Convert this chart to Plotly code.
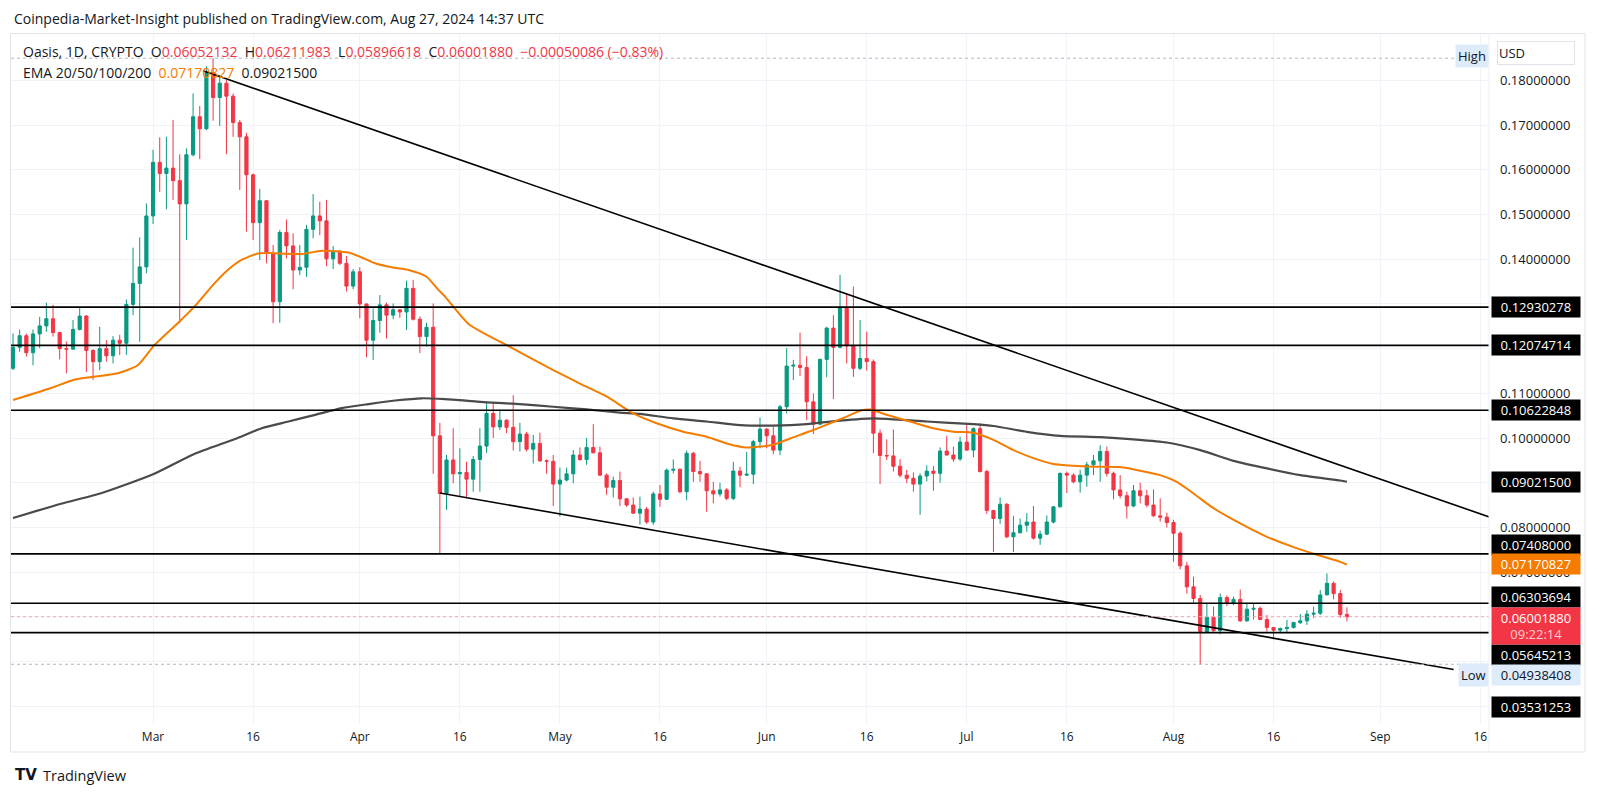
import plotly.graph_objects as go
import pandas as pd

# ---------------- data ----------------
START_DATE = "2024-02-09"   # first daily candle

OPEN = [0.1156, 0.1203, 0.1229, 0.1191, 0.1233, 0.1251, 0.1267, 0.1236, 0.1200, 0.1199,
        0.1243, 0.1273, 0.1196, 0.1171, 0.1200, 0.1184, 0.1219, 0.1212, 0.1299, 0.1346,
        0.1383, 0.1497, 0.1617, 0.1592, 0.1604, 0.1576, 0.1524, 0.1634, 0.1719, 0.1692,
        0.1818, 0.1762, 0.1794, 0.1765, 0.1706, 0.1674, 0.1589, 0.1482, 0.1531, 0.1413,
        0.1305, 0.1460, 0.1430, 0.1376, 0.1382, 0.1467, 0.1497, 0.1486, 0.1401, 0.1416,
        0.1391, 0.1340, 0.1372, 0.1300, 0.1219, 0.1263, 0.1298, 0.1275, 0.1287, 0.1282,
        0.1335, 0.1266, 0.1227, 0.1248, 0.1005, 0.0876, 0.0951, 0.0920, 0.0923, 0.0908,
        0.0952, 0.0982, 0.1055, 0.1025, 0.1040, 0.1024, 0.0992, 0.1009, 0.0975, 0.0988,
        0.0949, 0.0948, 0.0897, 0.0906, 0.0920, 0.0962, 0.0952, 0.0979, 0.0967, 0.0917,
        0.0890, 0.0905, 0.0864, 0.0850, 0.0832, 0.0841, 0.0812, 0.0875, 0.0863, 0.0928,
        0.0930, 0.0880, 0.0966, 0.0925, 0.0920, 0.0882, 0.0875, 0.0884, 0.0865, 0.0926,
        0.0917, 0.0919, 0.0992, 0.1020, 0.1005, 0.0973, 0.1070, 0.1161, 0.1163, 0.1158,
        0.1081, 0.1031, 0.1176, 0.1246, 0.1203, 0.1292, 0.1206, 0.1156, 0.1178, 0.1171,
        0.1011, 0.0961, 0.0960, 0.0937, 0.0917, 0.0910, 0.0897, 0.0915, 0.0926, 0.0921,
        0.0971, 0.0962, 0.0953, 0.0991, 0.0973, 0.1021, 0.0925, 0.0838, 0.0820, 0.0852,
        0.0779, 0.0788, 0.0805, 0.0812, 0.0776, 0.0785, 0.0812, 0.0846, 0.0921, 0.0917,
        0.0902, 0.0917, 0.0940, 0.0949, 0.0970, 0.0921, 0.0884, 0.0871, 0.0848, 0.0882,
        0.0871, 0.0850, 0.0826, 0.0823, 0.0811, 0.0787, 0.0714, 0.0667, 0.0641, 0.0567,
        0.0599, 0.0569, 0.0643, 0.0630, 0.0639, 0.0591, 0.0617, 0.0619, 0.0594, 0.0576,
        0.0570, 0.0574, 0.0576, 0.0587, 0.0591, 0.0606, 0.0608, 0.0649, 0.0675, 0.0652,
        0.06052132]

HIGH = [0.1234, 0.1243, 0.1234, 0.1243, 0.1271, 0.1303, 0.1298, 0.1238, 0.1216, 0.1264,
        0.1294, 0.1275, 0.1199, 0.1249, 0.1219, 0.1228, 0.1231, 0.1310, 0.1426, 0.1449,
        0.1525, 0.1645, 0.1673, 0.1674, 0.1712, 0.1635, 0.1648, 0.1771, 0.1743, 0.1832,
        0.1850, 0.1812, 0.1801, 0.1771, 0.1712, 0.1683, 0.1592, 0.1557, 0.1533, 0.1432,
        0.1466, 0.1489, 0.1458, 0.1432, 0.1477, 0.1546, 0.1529, 0.1533, 0.1430, 0.1421,
        0.1407, 0.1378, 0.1382, 0.1301, 0.1290, 0.1320, 0.1303, 0.1301, 0.1288, 0.1352,
        0.1354, 0.1272, 0.1258, 0.1301, 0.1034, 0.0962, 0.1022, 0.0977, 0.0947, 0.0960,
        0.1022, 0.1078, 0.1078, 0.1064, 0.1042, 0.1096, 0.1034, 0.1014, 0.1007, 0.1012,
        0.0952, 0.0962, 0.0934, 0.0934, 0.0973, 0.0979, 0.1000, 0.1031, 0.0981, 0.0921,
        0.0914, 0.0925, 0.0865, 0.0867, 0.0869, 0.0846, 0.0880, 0.0895, 0.0932, 0.0952,
        0.0932, 0.0972, 0.0969, 0.0949, 0.0921, 0.0902, 0.0900, 0.0888, 0.0947, 0.0936,
        0.0969, 0.0996, 0.1046, 0.1022, 0.1025, 0.1074, 0.1201, 0.1175, 0.1236, 0.1183,
        0.1100, 0.1178, 0.1249, 0.1275, 0.1365, 0.1320, 0.1339, 0.1264, 0.1238, 0.1176,
        0.1019, 0.0997, 0.1019, 0.0953, 0.0929, 0.0923, 0.0921, 0.0939, 0.0937, 0.0979,
        0.1005, 0.0981, 0.1003, 0.1033, 0.1024, 0.1033, 0.0929, 0.0839, 0.0867, 0.0854,
        0.0826, 0.0820, 0.0832, 0.0848, 0.0793, 0.0827, 0.0848, 0.0923, 0.0925, 0.0921,
        0.0929, 0.0947, 0.0962, 0.0984, 0.0981, 0.0925, 0.0917, 0.0880, 0.0895, 0.0900,
        0.0884, 0.0885, 0.0865, 0.0833, 0.0817, 0.0791, 0.0723, 0.0690, 0.0649, 0.0630,
        0.0623, 0.0652, 0.0648, 0.0645, 0.0661, 0.0630, 0.0630, 0.0623, 0.0604, 0.0577,
        0.0576, 0.0593, 0.0589, 0.0606, 0.0615, 0.0623, 0.0660, 0.0697, 0.0679, 0.0660,
        0.06211983]

LOW = [0.1152, 0.1193, 0.1182, 0.1163, 0.1201, 0.1238, 0.1227, 0.1176, 0.1145, 0.1197,
       0.1241, 0.1148, 0.1130, 0.1152, 0.1171, 0.1167, 0.1186, 0.1186, 0.1275, 0.1215,
       0.1369, 0.1479, 0.1551, 0.1512, 0.1533, 0.1257, 0.1443, 0.1630, 0.1624, 0.1689,
       0.1710, 0.1698, 0.1635, 0.1674, 0.1555, 0.1462, 0.1443, 0.1398, 0.1391, 0.1257,
       0.1258, 0.1402, 0.1333, 0.1365, 0.1361, 0.1447, 0.1454, 0.1385, 0.1378, 0.1387,
       0.1328, 0.1333, 0.1268, 0.1181, 0.1175, 0.1236, 0.1223, 0.1266, 0.1269, 0.1242,
       0.1263, 0.1190, 0.1205, 0.0920, 0.0741, 0.0839, 0.0899, 0.0869, 0.0865, 0.0880,
       0.0880, 0.0967, 0.1000, 0.1018, 0.1011, 0.0972, 0.0970, 0.0970, 0.0943, 0.0947,
       0.0920, 0.0848, 0.0824, 0.0903, 0.0899, 0.0949, 0.0940, 0.0966, 0.0915, 0.0873,
       0.0867, 0.0848, 0.0846, 0.0830, 0.0806, 0.0808, 0.0806, 0.0846, 0.0861, 0.0921,
       0.0876, 0.0861, 0.0902, 0.0902, 0.0835, 0.0854, 0.0869, 0.0861, 0.0861, 0.0890,
       0.0915, 0.0897, 0.0977, 0.0977, 0.0964, 0.0962, 0.1055, 0.1130, 0.1139, 0.1040,
       0.1009, 0.1029, 0.1136, 0.1087, 0.1201, 0.1167, 0.1137, 0.1152, 0.1151, 0.0966,
       0.0897, 0.0951, 0.0925, 0.0912, 0.0899, 0.0880, 0.0828, 0.0903, 0.0882, 0.0900,
       0.0961, 0.0947, 0.0949, 0.0972, 0.0957, 0.0923, 0.0830, 0.0745, 0.0808, 0.0776,
       0.0745, 0.0787, 0.0790, 0.0773, 0.0761, 0.0783, 0.0809, 0.0845, 0.0877, 0.0899,
       0.0878, 0.0891, 0.0917, 0.0902, 0.0914, 0.0863, 0.0865, 0.0820, 0.0845, 0.0854,
       0.0845, 0.0824, 0.0813, 0.0800, 0.0723, 0.0706, 0.0652, 0.0630, 0.04938408, 0.0564,
       0.0567, 0.0561, 0.0624, 0.0626, 0.0589, 0.0589, 0.0594, 0.0593, 0.0567, 0.0550,
       0.0564, 0.0564, 0.0574, 0.0584, 0.0582, 0.0597, 0.0604, 0.0649, 0.0639, 0.0598,
       0.05896618]

CLOSE = [0.1203, 0.1229, 0.1191, 0.1233, 0.1251, 0.1267, 0.1236, 0.1200, 0.1199, 0.1243,
         0.1273, 0.1196, 0.1171, 0.1200, 0.1184, 0.1219, 0.1212, 0.1299, 0.1346, 0.1383,
         0.1497, 0.1617, 0.1592, 0.1604, 0.1576, 0.1524, 0.1634, 0.1719, 0.1692, 0.1818,
         0.1762, 0.1794, 0.1765, 0.1706, 0.1674, 0.1589, 0.1482, 0.1531, 0.1413, 0.1305,
         0.1460, 0.1430, 0.1376, 0.1382, 0.1467, 0.1497, 0.1486, 0.1401, 0.1416, 0.1391,
         0.1340, 0.1372, 0.1300, 0.1219, 0.1263, 0.1298, 0.1275, 0.1287, 0.1282, 0.1335,
         0.1266, 0.1227, 0.1248, 0.1005, 0.0876, 0.0951, 0.0920, 0.0923, 0.0908, 0.0952,
         0.0982, 0.1055, 0.1025, 0.1040, 0.1024, 0.0992, 0.1009, 0.0975, 0.0988, 0.0949,
         0.0948, 0.0897, 0.0906, 0.0920, 0.0962, 0.0952, 0.0979, 0.0967, 0.0917, 0.0890,
         0.0905, 0.0864, 0.0850, 0.0832, 0.0841, 0.0812, 0.0875, 0.0863, 0.0928, 0.0930,
         0.0880, 0.0966, 0.0925, 0.0920, 0.0882, 0.0875, 0.0884, 0.0865, 0.0926, 0.0917,
         0.0919, 0.0992, 0.1020, 0.1005, 0.0973, 0.1070, 0.1161, 0.1163, 0.1158, 0.1081,
         0.1031, 0.1176, 0.1246, 0.1203, 0.1292, 0.1206, 0.1156, 0.1178, 0.1171, 0.1011,
         0.0961, 0.0960, 0.0937, 0.0917, 0.0910, 0.0897, 0.0915, 0.0926, 0.0921, 0.0971,
         0.0962, 0.0953, 0.0991, 0.0973, 0.1021, 0.0925, 0.0838, 0.0820, 0.0852, 0.0779,
         0.0788, 0.0805, 0.0812, 0.0776, 0.0785, 0.0812, 0.0846, 0.0921, 0.0917, 0.0902,
         0.0917, 0.0940, 0.0949, 0.0970, 0.0921, 0.0884, 0.0871, 0.0848, 0.0882, 0.0871,
         0.0850, 0.0826, 0.0823, 0.0811, 0.0787, 0.0714, 0.0667, 0.0641, 0.0567, 0.0599,
         0.0569, 0.0643, 0.0630, 0.0639, 0.0591, 0.0617, 0.0619, 0.0594, 0.0576, 0.0570,
         0.0574, 0.0576, 0.0587, 0.0591, 0.0606, 0.0608, 0.0649, 0.0675, 0.0652, 0.06052132,
         0.06001880]

# EMA lines (day offset from START_DATE, value)
EMA_ORANGE_DAY = [0, 5.7, 9.3, 15.7, 18.7, 21.2, 24.7, 27.2, 30.2, 32.2, 34.2, 36.7, 38.2,
                  43.3, 46.3, 50.3, 52.3, 54.3, 56.8, 59.3, 62.0, 63.8, 64.8, 68.4, 74.5,
                  81.0, 85.0, 89.0, 93.0, 96.5, 100.5, 104, 107, 110, 114, 116.5, 120,
                  122.5, 125, 127, 128.5, 131, 134.5, 138, 141, 144, 147, 150, 153, 156,
                  159, 162, 166, 169, 172, 174.5, 177, 180, 184, 188, 192, 195, 199, 200]
EMA_ORANGE_VAL = [0.1085, 0.1112, 0.1131, 0.1145, 0.1163, 0.1208, 0.1257, 0.1294, 0.1346,
                  0.1376, 0.1398, 0.1413, 0.1414, 0.1412, 0.1419, 0.1415, 0.1404, 0.1391,
                  0.1382, 0.1376, 0.1361, 0.1331, 0.1316, 0.1254, 0.1204, 0.1152, 0.1122,
                  0.1093, 0.1055, 0.1033, 0.1014, 0.1003, 0.0988, 0.0979, 0.0985, 0.0999,
                  0.1018, 0.1033, 0.1048, 0.1061, 0.1064, 0.1052, 0.1037, 0.1022, 0.1014,
                  0.1012, 0.0996, 0.0973, 0.0955, 0.0942, 0.0938, 0.0936, 0.0935, 0.0927,
                  0.0917, 0.0902, 0.0876, 0.0843, 0.0809, 0.0779, 0.0756, 0.0741, 0.0723,
                  0.07170827]
EMA_GRAY_DAY = [0, 7.2, 13.3, 21, 27.1, 33.3, 37.3, 41.3, 45.3, 49.3, 53.3, 57.3, 61.3, 64.8,
                71, 76, 81, 86, 91, 94, 99, 104, 109, 114, 119, 124, 129, 137, 144, 147,
                152, 157, 163, 168, 173, 178, 183, 188, 193, 199, 200]
EMA_GRAY_VAL = [0.0821, 0.0853, 0.0877, 0.0919, 0.0964, 0.0998, 0.1022, 0.1037, 0.1052,
                0.1067, 0.1076, 0.1084, 0.1089, 0.1087, 0.1080, 0.1076, 0.1070, 0.1064,
                0.1057, 0.1054, 0.1044, 0.1037, 0.1029, 0.1028, 0.1031, 0.1039, 0.1044,
                0.1037, 0.1031, 0.1027, 0.1014, 0.1005, 0.1002, 0.0997, 0.0990, 0.0973,
                0.0949, 0.0932, 0.0917, 0.0905, 0.09021500]

LEVELS = [0.12930278, 0.12074714, 0.10622848, 0.07408000, 0.06303694, 0.05645213]
UPPER_TREND_DAY = [28.5, 222.0]
UPPER_TREND_VAL = [0.1822, 0.0820]
LOWER_TREND_DAY = [64.0, 216.0]
LOWER_TREND_VAL = [0.0877, 0.0482]
HIGH_PRICE = 0.1850
LOW_PRICE = 0.04938408
LAST_PRICE = 0.06001880
EMA_ORANGE_LAST = 0.07170827
EMA_GRAY_LAST = 0.09021500
BOTTOM_LEVEL = 0.03531253

X_TICK_DATES = ["2024-03-01", "2024-03-16", "2024-04-01", "2024-04-16", "2024-05-01",
                "2024-05-16", "2024-06-01", "2024-06-16", "2024-07-01", "2024-07-16",
                "2024-08-01", "2024-08-16", "2024-09-01", "2024-09-16"]
X_TICK_TEXT = ["Mar", "16", "Apr", "16", "May", "16", "Jun", "16", "Jul", "16",
               "Aug", "16", "Sep", "16"]
Y_TICKS = [0.04, 0.05, 0.06, 0.07, 0.08, 0.09, 0.10, 0.11, 0.12, 0.13, 0.14, 0.15,
           0.16, 0.17, 0.18]
Y_TICK_TEXT = ["", "", "", "0.07000000", "0.08000000", "", "0.10000000", "0.11000000",
               "", "", "0.14000000", "0.15000000", "0.16000000", "0.17000000", "0.18000000"]

# ---------------- styling / geometry ----------------
W, H = 1600, 795
PL, PR, PT, PB = 11, 1489, 34, 724        # plot area in pixels
FONT = "'Open Sans', Roboto, sans-serif"
TXT = "#131722"
UP, DOWN = "#089981", "#F23645"
ORANGE = "#F57C00"
GRAY_LINE = "#4a4a4a"
AX_FONT = 13

base = pd.Timestamp(START_DATE)
dates = pd.date_range(START_DATE, periods=len(CLOSE), freq="D")
def day(d):
    return base + pd.Timedelta(days=d)

x_range = [day(-0.30), day(221.3)]
y_range = [0.036015, 0.190412]

def px2x(px):
    return (px - PL) / (PR - PL)

def py2y(py):
    return (PB - py) / (PB - PT)

fig = go.Figure()

fig.add_trace(go.Scatter(x=[day(d) for d in EMA_GRAY_DAY], y=EMA_GRAY_VAL, mode="lines",
                         line=dict(color=GRAY_LINE, width=2.2, shape="spline", smoothing=0.6),
                         hoverinfo="skip", showlegend=False))
fig.add_trace(go.Scatter(x=[day(d) for d in EMA_ORANGE_DAY], y=EMA_ORANGE_VAL, mode="lines",
                         line=dict(color=ORANGE, width=2, shape="spline", smoothing=0.6),
                         hoverinfo="skip", showlegend=False))

fig.add_trace(go.Candlestick(
    x=dates, open=OPEN, high=HIGH, low=LOW, close=CLOSE,
    increasing=dict(line=dict(color=UP, width=1), fillcolor=UP),
    decreasing=dict(line=dict(color=DOWN, width=1), fillcolor=DOWN),
    whiskerwidth=0, hoverinfo="skip", showlegend=False))

for dlist, vlist in [(UPPER_TREND_DAY, UPPER_TREND_VAL), (LOWER_TREND_DAY, LOWER_TREND_VAL)]:
    fig.add_trace(go.Scatter(x=[day(d) for d in dlist], y=vlist, mode="lines",
                             line=dict(color="#000000", width=1.6),
                             hoverinfo="skip", showlegend=False))

shapes = []
for lv in LEVELS:
    shapes.append(dict(type="line", xref="paper", yref="y", x0=0, x1=1, y0=lv, y1=lv,
                       line=dict(color="#000000", width=1.6)))
# high / low / last price dotted lines
shapes.append(dict(type="line", xref="paper", yref="y", x0=0, x1=1, y0=HIGH_PRICE, y1=HIGH_PRICE,
                   line=dict(color="#B2B5BE", width=1, dash="dot")))
shapes.append(dict(type="line", xref="paper", yref="y", x0=0, x1=1, y0=LOW_PRICE, y1=LOW_PRICE,
                   line=dict(color="#B2B5BE", width=1, dash="dot")))
shapes.append(dict(type="line", xref="paper", yref="y", x0=0, x1=1, y0=LAST_PRICE, y1=LAST_PRICE,
                   line=dict(color="#F7A1A8", width=1, dash="dot")))
# frame
shapes.append(dict(type="rect", xref="paper", yref="paper", x0=px2x(10.5), x1=px2x(1585),
                   y0=py2y(752), y1=py2y(33.5), line=dict(color="#E0E3EB", width=1),
                   layer="below"))
shapes.append(dict(type="line", xref="paper", yref="paper", x0=px2x(1489), x1=px2x(1489),
                   y0=py2y(752), y1=py2y(33.5), line=dict(color="#EEF0F4", width=1)))

ann = []
def axis_box(val, text, bg, fg, yshift=0, h=18, yref="y"):
    ann.append(dict(xref="paper", x=px2x(1491), xanchor="left", yref=yref, y=val,
                    yanchor="middle", yshift=yshift, text=text, showarrow=False,
                    bgcolor=bg, font=dict(color=fg, size=AX_FONT, family=FONT),
                    width=86, height=h, borderpad=1, align="center"))

axis_box(LEVELS[0], "0.12930278", "#000000", "#FFFFFF")
axis_box(LEVELS[1], "0.12074714", "#000000", "#FFFFFF")
axis_box(LEVELS[2], "0.10622848", "#000000", "#FFFFFF")
axis_box(EMA_GRAY_LAST, "0.09021500", "#000000", "#FFFFFF")
axis_box(LEVELS[3], "0.07408000", "#000000", "#FFFFFF", yshift=9)
axis_box(EMA_ORANGE_LAST, "0.07170827", ORANGE, "#FFFFFF")
axis_box(LEVELS[4], "0.06303694", "#000000", "#FFFFFF", yshift=6)
axis_box(LEVELS[5], "0.05645213", "#000000", "#FFFFFF", yshift=-22.6)
axis_box(LOW_PRICE, "0.04938408", "#DDEBFB", TXT, yshift=-11)
axis_box(py2y(707), "0.03531253", "#000000", "#FFFFFF", yref="paper")
# last price (two lines)
ann.append(dict(xref="paper", x=px2x(1491), xanchor="left", yref="y", y=LAST_PRICE,
                yanchor="top", yshift=10, showarrow=False,
                text="0.06001880<br><span style='color:#FFD0D5'>09:22:14</span>",
                bgcolor=DOWN, font=dict(color="#FFFFFF", size=AX_FONT, family=FONT),
                width=86, height=34, borderpad=1, align="center"))
# High / Low tags left of the axis
ann.append(dict(xref="paper", x=px2x(1489), xanchor="right", yref="y", y=HIGH_PRICE,
                yanchor="middle", yshift=2, text="High", showarrow=False, bgcolor="#DDEBFB",
                font=dict(color=TXT, size=AX_FONT, family=FONT), borderpad=2))
ann.append(dict(xref="paper", x=px2x(1489), xanchor="right", yref="y", y=LOW_PRICE,
                yanchor="middle", yshift=-11, text="Low", showarrow=False, bgcolor="#DDEBFB",
                font=dict(color=TXT, size=AX_FONT, family=FONT), borderpad=2))
# USD box
ann.append(dict(xref="paper", x=px2x(1497), xanchor="left", yref="paper", y=py2y(53),
                yanchor="middle", text="USD", showarrow=False, bgcolor="#FFFFFF",
                bordercolor="#E0E3EB", borderwidth=1, width=74, height=20, borderpad=1,
                align="left", font=dict(color=TXT, size=13, family=FONT)))
# header & legend
ann.append(dict(xref="paper", x=px2x(12), xanchor="left", yref="paper", y=py2y(18.5),
                yanchor="middle", showarrow=False,
                text="Coinpedia-Market-Insight published on TradingView.com, Aug 27, 2024 14:37 UTC",
                font=dict(color=TXT, size=14, family=FONT)))
red = lambda s: f"<span style='color:{DOWN}'>{s}</span>"
sp = "\u00a0\u00a0"
legend1 = ("Oasis, 1D, CRYPTO" + sp + "O" + red("0.06052132") + sp + "H" + red("0.06211983")
           + sp + "L" + red("0.05896618") + sp + "C" + red("0.06001880") + sp
           + red("\u22120.00050086 (\u22120.83%)"))
ann.append(dict(xref="paper", x=px2x(21), xanchor="left", yref="paper", y=py2y(51.5),
                yanchor="middle", showarrow=False, text=legend1,
                font=dict(color=TXT, size=14, family=FONT)))
legend2 = ("EMA 20/50/100/200" + sp + f"<span style='color:{ORANGE}'>0.07170827</span>" + sp
           + "0.09021500")
ann.append(dict(xref="paper", x=px2x(21), xanchor="left", yref="paper", y=py2y(72.5),
                yanchor="middle", showarrow=False, text=legend2,
                font=dict(color=TXT, size=14, family=FONT)))
# footer
ann.append(dict(xref="paper", x=px2x(13), xanchor="left", yref="paper", y=py2y(775),
                yanchor="middle", showarrow=False, text="<b>TV</b>",
                font=dict(color=TXT, size=15, family="'DejaVu Sans', sans-serif")))
ann.append(dict(xref="paper", x=px2x(41), xanchor="left", yref="paper", y=py2y(775),
                yanchor="middle", showarrow=False, text="TradingView",
                font=dict(color=TXT, size=14.5, family=FONT)))

fig.update_layout(
    width=W, height=H,
    margin=dict(l=PL, r=W - PR, t=PT, b=H - PB, pad=0),
    paper_bgcolor="#FFFFFF", plot_bgcolor="#FFFFFF",
    showlegend=False, hovermode=False,
    shapes=shapes, annotations=ann,
    boxgap=0.32,
    xaxis=dict(type="date", range=x_range, rangeslider=dict(visible=False),
               tickmode="array", tickvals=X_TICK_DATES, ticktext=X_TICK_TEXT,
               showgrid=True, gridcolor="#F0F3FA", gridwidth=1, zeroline=False,
               showline=False, ticks="", ticklabelstandoff=4,
               tickfont=dict(color=TXT, size=12, family=FONT)),
    yaxis=dict(range=y_range, side="right", tickmode="array", tickvals=Y_TICKS,
               ticktext=Y_TICK_TEXT, showgrid=True, gridcolor="#F0F3FA", gridwidth=1,
               zeroline=False, showline=False, ticks="", ticklabelstandoff=10,
               tickfont=dict(color=TXT, size=AX_FONT, family=FONT)),
)

# remove the browser's default 8px page margin so the figure sits at the page origin
fig.write_html("out.html", config={"displayModeBar": False},
               post_script="document.body.style.margin='0px';")
